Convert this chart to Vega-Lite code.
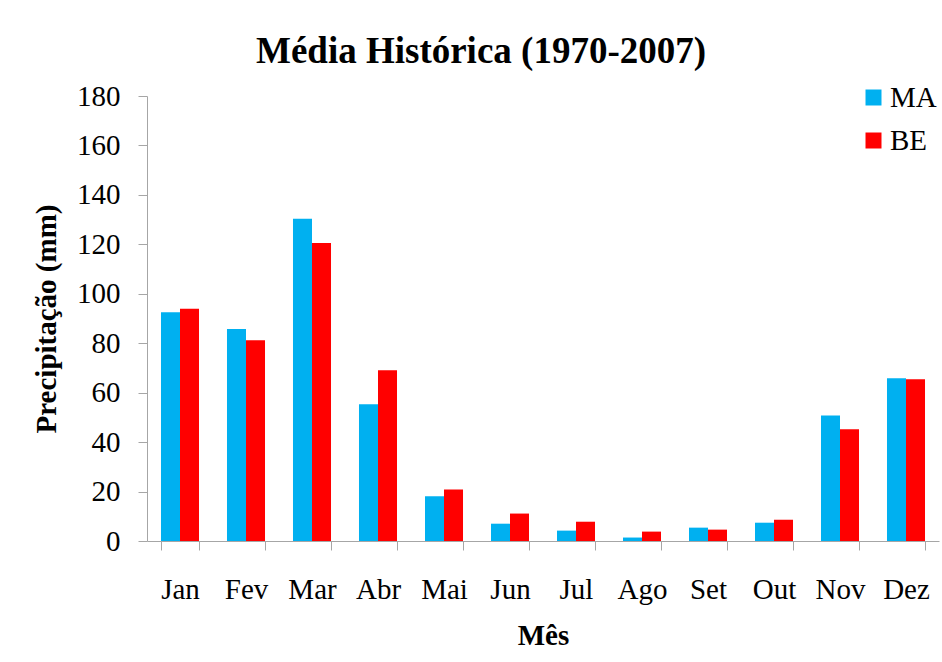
{
  "$schema": "https://vega.github.io/schema/vega-lite/v6.json",
  "width": 792,
  "height": 445,
  "autosize": {"type": "none"},
  "padding": {"left": 147, "top": 96, "right": 3, "bottom": 121},
  "background": "white",
  "title": {
    "text": "Média Histórica (1970-2007)",
    "font": "Liberation Serif",
    "fontSize": 37,
    "fontWeight": "bold",
    "color": "black",
    "anchor": "middle",
    "dx": -62,
    "baseline": "alphabetic",
    "offset": -18
  },
  "data": {
    "values": [
      {"mes": "Jan", "serie": "MA", "valor": 92.5},
      {"mes": "Jan", "serie": "BE", "valor": 93.9},
      {"mes": "Fev", "serie": "MA", "valor": 85.8},
      {"mes": "Fev", "serie": "BE", "valor": 81.2},
      {"mes": "Mar", "serie": "MA", "valor": 130.3},
      {"mes": "Mar", "serie": "BE", "valor": 120.5},
      {"mes": "Abr", "serie": "MA", "valor": 55.3},
      {"mes": "Abr", "serie": "BE", "valor": 69.1},
      {"mes": "Mai", "serie": "MA", "valor": 18.1},
      {"mes": "Mai", "serie": "BE", "valor": 20.8},
      {"mes": "Jun", "serie": "MA", "valor": 7.0},
      {"mes": "Jun", "serie": "BE", "valor": 11.1},
      {"mes": "Jul", "serie": "MA", "valor": 4.2},
      {"mes": "Jul", "serie": "BE", "valor": 7.8},
      {"mes": "Ago", "serie": "MA", "valor": 1.4},
      {"mes": "Ago", "serie": "BE", "valor": 3.8},
      {"mes": "Set", "serie": "MA", "valor": 5.4},
      {"mes": "Set", "serie": "BE", "valor": 4.6},
      {"mes": "Out", "serie": "MA", "valor": 7.4},
      {"mes": "Out", "serie": "BE", "valor": 8.6},
      {"mes": "Nov", "serie": "MA", "valor": 50.8},
      {"mes": "Nov", "serie": "BE", "valor": 45.2},
      {"mes": "Dez", "serie": "MA", "valor": 65.8},
      {"mes": "Dez", "serie": "BE", "valor": 65.4}
    ]
  },
  "mark": {"type": "bar"},
  "encoding": {
    "x": {
      "field": "mes",
      "type": "nominal",
      "sort": null,
      "title": "Mês",
      "scale": {"paddingInner": 0.424, "paddingOuter": 0.212},
      "axis": {
        "labelAngle": 0,
        "tickBand": "extent",
        "tickSize": 9,
        "tickColor": "#a6a6a6",
        "domainColor": "#a6a6a6",
        "labelFont": "Liberation Serif",
        "labelFontSize": 29,
        "labelColor": "black",
        "labelPadding": 25,
        "titleFont": "Liberation Serif",
        "titleFontSize": 29,
        "titleFontWeight": "bold",
        "titleColor": "black",
        "titlePadding": 17
      }
    },
    "xOffset": {
      "field": "serie",
      "type": "nominal",
      "sort": ["MA", "BE"],
      "scale": {"paddingInner": 0, "paddingOuter": 0}
    },
    "y": {
      "field": "valor",
      "type": "quantitative",
      "title": "Precipitação (mm)",
      "scale": {"domain": [0, 180], "nice": false},
      "axis": {
        "values": [0, 20, 40, 60, 80, 100, 120, 140, 160, 180],
        "grid": false,
        "tickSize": 9,
        "tickColor": "#a6a6a6",
        "domainColor": "#a6a6a6",
        "labelFont": "Liberation Serif",
        "labelFontSize": 29,
        "labelColor": "black",
        "labelPadding": 18,
        "titleFont": "Liberation Serif",
        "titleFontSize": 29,
        "titleFontWeight": "bold",
        "titleColor": "black",
        "titlePadding": 15
      }
    },
    "color": {
      "field": "serie",
      "type": "nominal",
      "scale": {"domain": ["MA", "BE"], "range": ["#00B0F0", "#FF0000"]},
      "legend": {
        "title": null,
        "orient": "none",
        "legendX": 712,
        "legendY": -13,
        "symbolType": "square",
        "symbolSize": 256,
        "symbolStrokeWidth": 0,
        "labelFont": "Liberation Serif",
        "labelFontSize": 29,
        "labelColor": "black",
        "labelOffset": 2,
        "rowPadding": 13
      }
    }
  },
  "config": {
    "view": {"stroke": null}
  }
}
